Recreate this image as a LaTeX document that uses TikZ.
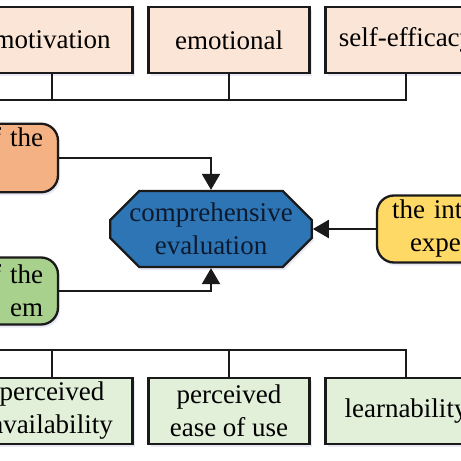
\documentclass[tikz,border=0pt]{standalone}
\usepackage{fontspec}
\setmainfont{Liberation Serif}
\usepackage{tikz}
\usetikzlibrary{shapes.misc,arrows.meta,shadows}
\definecolor{peach}{HTML}{FBE5D6}
\definecolor{lgreen}{HTML}{E2F0D9}
\definecolor{orng}{HTML}{F4B183}
\definecolor{grn}{HTML}{A9D18E}
\definecolor{ylw}{HTML}{FFD966}
\definecolor{blu}{HTML}{2E75B6}
\definecolor{edge}{HTML}{1A1A1A}
\definecolor{navy}{HTML}{0D1A2E}
\tikzstyle{every node}=[font=\fontsize{27}{33}\selectfont,line width=2.3pt,draw=edge,
  drop shadow={shadow xshift=2pt,shadow yshift=-3pt,opacity=0.12,fill=blue!40!gray}]
\tikzstyle{factor}=[rectangle,minimum width=161pt,minimum height=66pt,inner sep=2pt,align=center]
\tikzstyle{aspect}=[rounded corners=17pt,minimum width=140pt,text width=110pt,inner xsep=15pt,minimum height=67pt]
\tikzstyle{line}=[line width=2.3pt,draw=edge]
\tikzstyle{arr}=[line,-{Triangle[length=16pt,width=18pt]}]

\begin{document}
\begin{tikzpicture}[x=1pt,y=-1pt]
        \useasboundingbox (0,0) rectangle (461,461);
        \clip (0,0) rectangle (461,461);
        \node[factor,fill=peach] (mot) at (52,40) {motivation};
        \node[factor,fill=peach] (emo) at (229,40) {emotional};
        \node[factor,fill=peach] (eff) at (406,40) {self-efficacy};
        \coordinate (topbar) at (-10,100);
        \draw[line] (eff.south) |- (topbar);
        \draw[line] (mot.south) -- (mot.south |- topbar);
        \draw[line] (emo.south) -- (emo.south |- topbar);
        \node[chamfered rectangle,chamfered rectangle xsep=18pt,chamfered rectangle ysep=11pt,
            minimum width=198pt,minimum height=67pt,inner sep=1pt,align=center,
            fill=blu,text=navy] (eval) at (211,229) {comprehensive\\evaluation};
        \node[aspect,fill=orng,align=right] (usr) at (-12,158) {f the\\\strut};
        \node[aspect,fill=grn,align=right] (sys) at (-12,291) {f the\\em\hspace*{7pt}};
        \node[aspect,fill=ylw,align=left] (exp) at (447,229) {the int\\\hspace*{18pt}expe};
        \draw[arr] (usr.east) -| (eval.north);
        \draw[arr] (sys.east) -| (eval.south);
        \draw[arr] (exp.west) -- (eval.east);
        \node[factor,fill=lgreen] (ava) at (52,411) {perceived\\availability};
        \node[factor,fill=lgreen] (eas) at (229,411) {perceived\\ease of use};
        \node[factor,fill=lgreen] (lea) at (406,411) {learnability};
        \coordinate (botbar) at (-10,350);
        \draw[line] (lea.north) |- (botbar);
        \draw[line] (ava.north) -- (ava.north |- botbar);
        \draw[line] (eas.north) -- (eas.north |- botbar);
\end{tikzpicture}
\end{document}
